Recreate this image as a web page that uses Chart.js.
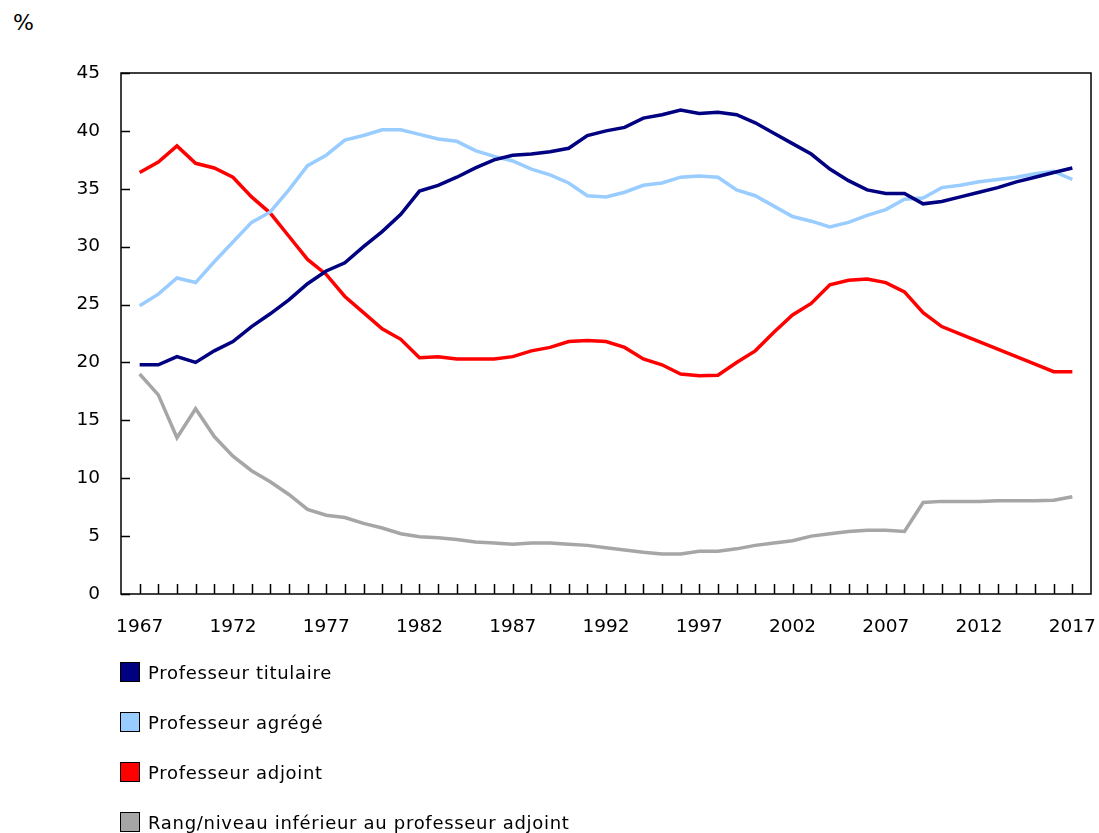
<!DOCTYPE html>
<html lang="fr">
<head>
    <meta charset="UTF-8">
    <title>Professeurs selon le rang</title>
    <script src="https://cdn.jsdelivr.net/npm/chart.js"></script>
    <style>
        body { margin: 0; overflow: hidden; background: #fff; font-family: "DejaVu Sans", Verdana, sans-serif; color: #000; }
        #page { position: relative; width: 1099px; height: 833px; overflow: hidden; }
        #unit { position: absolute; left: 13px; top: 10px; font-size: 22px; }
        #box { position: absolute; left: 0; top: 0; width: 1099px; height: 650px; }
        #legend { position: absolute; left: 120px; top: 647px; }
        .item { display: flex; align-items: center; height: 50px; font-size: 18px; letter-spacing: 0.7px; white-space: nowrap; }
        .sw { width: 18px; height: 18px; border: 1.5px solid #000; margin-right: 8px; }
    </style>
</head>
<body>
<div id="page">
    <div id="unit">%</div>
    <div id="box"><canvas id="chart"></canvas></div>
    <div id="legend"></div>
</div>
<script>
    const years = [1967,1968,1969,1970,1971,1972,1973,1974,1975,1976,
                   1977,1978,1979,1980,1981,1982,1983,1984,1985,1986,
                   1987,1988,1989,1990,1991,1992,1993,1994,1995,1996,
                   1997,1998,1999,2000,2001,2002,2003,2004,2005,2006,
                   2007,2008,2009,2010,2011,2012,2013,2014,2015,2016,2017];

    const titulaire = [19.8,19.8,20.5,20.0,21.0,21.8,23.1,24.2,25.4,26.8,
                       27.9,28.6,30.0,31.3,32.8,34.8,35.3,36.0,36.8,37.5,
                       37.9,38.0,38.2,38.5,39.6,40.0,40.3,41.1,41.4,41.8,
                       41.5,41.6,41.4,40.7,39.8,38.9,38.0,36.7,35.7,34.9,
                       34.6,34.6,33.7,33.9,34.3,34.7,35.1,35.6,36.0,36.4,36.8];

    const agrege = [24.9,25.9,27.3,26.9,28.7,30.4,32.1,33.0,34.9,37.0,
                    37.9,39.2,39.6,40.1,40.1,39.7,39.3,39.1,38.3,37.8,
                    37.4,36.7,36.2,35.5,34.4,34.3,34.7,35.3,35.5,36.0,
                    36.1,36.0,34.9,34.4,33.5,32.6,32.2,31.7,32.1,32.7,
                    33.2,34.1,34.2,35.1,35.3,35.6,35.8,36.0,36.3,36.5,35.8];

    const adjoint = [36.4,37.3,38.7,37.2,36.8,36.0,34.3,32.9,30.9,28.9,
                     27.6,25.7,24.3,22.9,22.0,20.4,20.5,20.3,20.3,20.3,
                     20.5,21.0,21.3,21.8,21.9,21.8,21.3,20.3,19.8,19.0,
                     18.85,18.9,20.0,21.0,22.6,24.1,25.1,26.7,27.1,27.2,
                     26.9,26.1,24.3,23.1,22.45,21.8,21.15,20.5,19.85,19.2,19.2];

    const inferieur = [19.0,17.2,13.5,16.0,13.6,11.9,10.65,9.7,8.6,7.3,
                       6.8,6.6,6.1,5.7,5.2,4.95,4.85,4.7,4.5,4.4,
                       4.3,4.4,4.4,4.3,4.2,4.0,3.8,3.6,3.45,3.45,
                       3.7,3.7,3.9,4.2,4.4,4.6,5.0,5.2,5.4,5.5,
                       5.5,5.4,7.9,8.0,8.0,8.0,8.05,8.05,8.05,8.1,8.4];

    const yearLabels = [1967,1972,1977,1982,1987,1992,1997,2002,2007,2012,2017];

    const series = [
        { label: "Professeur titulaire", values: titulaire, color: "#000080" },
        { label: "Professeur agrégé", values: agrege, color: "#99ccff" },
        { label: "Professeur adjoint", values: adjoint, color: "#ff0000" },
        { label: "Rang/niveau inférieur au professeur adjoint", values: inferieur, color: "#a6a6a6" }
    ];

    // frame + inward tick marks
    const frame = {
        id: "frame",
        afterDatasetsDraw(chart) {
            const { ctx, chartArea: a, scales: { x, y } } = chart;
            ctx.save();
            ctx.strokeStyle = "#000";
            ctx.lineWidth = 1.5;
            ctx.strokeRect(a.left, a.top, a.right - a.left, a.bottom - a.top);
            ctx.beginPath();
            years.forEach(yr => {
                const px = Math.round(x.getPixelForValue(yr)) + 0.5;
                ctx.moveTo(px, a.bottom);
                ctx.lineTo(px, a.bottom - 10);
            });
            y.ticks.forEach(t => {
                const py = Math.round(y.getPixelForValue(t.value)) + 0.5;
                ctx.moveTo(a.left, py);
                ctx.lineTo(a.left + 9, py);
            });
            ctx.stroke();
            ctx.restore();
        }
    };

    const font = { family: "'DejaVu Sans', Verdana, sans-serif", size: 18.5 };

    new Chart(document.getElementById("chart"), {
        type: "line",
        data: {
            datasets: series.map(s => ({
                label: s.label,
                data: years.map((yr, i) => ({ x: yr, y: s.values[i] })),
                borderColor: s.color,
                backgroundColor: s.color,
                borderWidth: 3.5,
                pointRadius: 0,
                tension: 0
            }))
        },
        options: {
            responsive: true,
            maintainAspectRatio: false,
            animation: false,
            layout: { padding: { top: 73, right: 8, left: 0, bottom: 0 } },
            plugins: { legend: { display: false }, tooltip: { enabled: false } },
            scales: {
                x: {
                    type: "linear",
                    min: 1966,
                    max: 2018,
                    grid: { display: false, drawTicks: false },
                    border: { display: false },
                    afterFit: s => { s.height = 56; s.paddingLeft = 0; s.paddingRight = 0; },
                    ticks: {
                        stepSize: 1,
                        maxTicksLimit: 100,
                        autoSkip: false,
                        maxRotation: 0,
                        padding: 22,
                        color: "#000",
                        font: font,
                        callback: v => yearLabels.includes(v) ? String(v) : ""
                    }
                },
                y: {
                    min: 0,
                    max: 45,
                    grid: { display: false, drawTicks: false },
                    border: { display: false },
                    afterFit: s => { s.width = 121; s.paddingTop = 0; s.paddingBottom = 0; },
                    ticks: { stepSize: 5, padding: 21, color: "#000", font: font }
                }
            }
        },
        plugins: [frame]
    });

    const legend = document.getElementById("legend");
    series.forEach(s => {
        const row = document.createElement("div");
        row.className = "item";
        row.innerHTML = `<div class="sw" style="background:${s.color}"></div><span>${s.label}</span>`;
        legend.appendChild(row);
    });
</script>
</body>
</html>
